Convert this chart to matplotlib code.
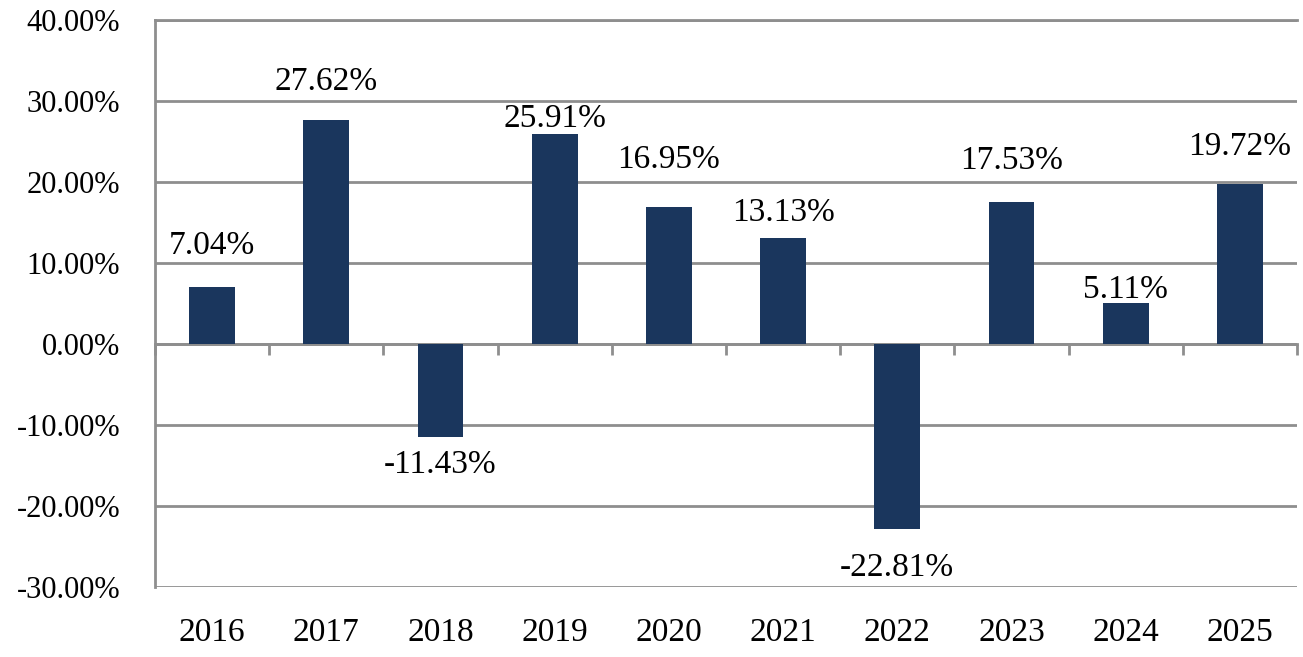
import matplotlib.pyplot as plt
import matplotlib.ticker as mticker
import numpy as np

years = ["2016", "2017", "2018", "2019", "2020", "2021", "2022", "2023", "2024", "2025"]
returns = [7.04, 27.62, -11.43, 25.91, 16.95, 13.13, -22.81, 17.53, 5.11, 19.72]

# label shift from bar end, in points (as the labels sit in the original)
label_shift = [30, 28, -20, 11, 34, 18, -28, 30, 9, 27]

bar_color = "#1a365d"
grid_color = "#8e8e8e"

plt.rcParams['font.family'] = ['Liberation Serif', 'DejaVu Serif']

fig = plt.figure(figsize=(13.03, 6.57), dpi=100)
ax = fig.add_axes([155 / 1303, 1 - 587 / 657, (1297 - 155) / 1303, (587 - 20) / 657])

x = np.arange(len(years))
bars = ax.bar(x, returns, width=0.4, color=bar_color, zorder=3)

ax.set_xlim(-0.5, len(years) - 0.5)
ax.set_ylim(-30, 40)
ax.yaxis.set_major_locator(mticker.MultipleLocator(10))
ax.yaxis.set_major_formatter(mticker.FuncFormatter(lambda v, p: f"{v:.2f}%"))
ax.grid(axis="y", color=grid_color, linewidth=2, zorder=0)
ax.tick_params(axis="y", length=0, pad=25, labelsize=22)

ax.spines["right"].set_visible(False)
ax.spines["top"].set_color(grid_color)
ax.spines["top"].set_linewidth(2)
ax.spines["left"].set_color(grid_color)
ax.spines["left"].set_linewidth(2)
ax.spines["bottom"].set_position(("data", 0))
ax.spines["bottom"].set_color(grid_color)
ax.spines["bottom"].set_linewidth(2)

# category boundaries as ticks on the zero line
ax.set_xticks(np.arange(-0.5, len(years), 1.0))
ax.set_xticklabels([])
ax.tick_params(axis="x", direction="out", length=8, width=2, color=grid_color)

for i, yr in enumerate(years):
    ax.text(i, -0.08, yr, transform=ax.get_xaxis_transform(),
            ha="center", va="center", fontsize=24)

for b, v, dy in zip(bars, returns, label_shift):
    ax.annotate(f"{v:.2f}%", (b.get_x() + b.get_width() / 2, v),
                xytext=(0, dy), textcoords="offset points",
                ha="center", va="center", fontsize=24)

fig.savefig("out.png", dpi=100)
